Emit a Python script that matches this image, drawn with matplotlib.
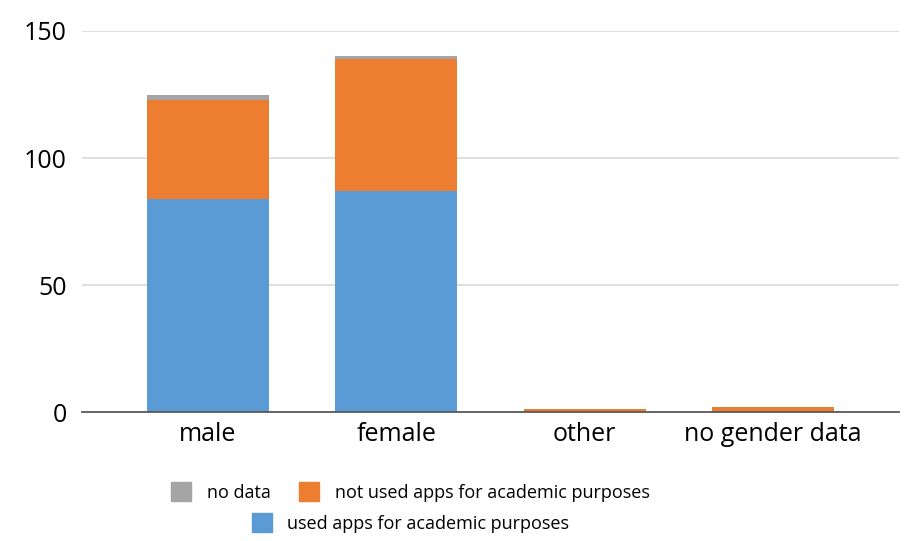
import numpy as np
import matplotlib.pyplot as plt
from matplotlib.patches import Patch

plt.rcParams['font.family'] = ['Open Sans', 'DejaVu Sans']

# -------------------------------
# Data
# -------------------------------
categories = ['male', 'female', 'other', 'no gender data']
used_apps = [84, 87, 0, 0]
not_used_apps = [39, 52, 1, 2]
no_data = [2, 1, 0, 0]

c_used = '#5b9bd5'
c_not = '#ed7d31'
c_none = '#a5a5a5'

# -------------------------------
# Plotting
# -------------------------------
fig = plt.figure(figsize=(9.1, 5.41), dpi=100)
ax = fig.add_axes([0.0901, 0.2384, 0.8978, 0.7043])

x = np.arange(len(categories))
w = 0.648
used = np.array(used_apps)
notu = np.array(not_used_apps)
nod = np.array(no_data)

ax.bar(x, used, w, color=c_used, zorder=3)
ax.bar(x, notu, w, bottom=used, color=c_not, zorder=3)
ax.bar(x, nod, w, bottom=used + notu, color=c_none, zorder=3)

ax.set_xlim(-0.669, 3.67)
ax.set_ylim(0, 150)
ax.set_yticks([0, 50, 100, 150])
ax.set_xticks(x)
ax.set_xticklabels(categories)
ax.tick_params(axis='both', length=0, labelsize=18, colors='black')
ax.tick_params(axis='x', pad=7)
ax.tick_params(axis='y', pad=11)

ax.grid(axis='y', color='#d9d9d9', linewidth=1.2, zorder=0)
for s in ['top', 'right', 'left']:
    ax.spines[s].set_visible(False)
ax.spines['bottom'].set_color('#595959')
ax.spines['bottom'].set_linewidth(1.3)
ax.spines['bottom'].set_zorder(4)

# Legend in two rows
row1 = [Patch(color=c_none), Patch(color=c_not)]
fig.legend(row1, ['no data', 'not used apps for academic purposes'],
           loc='center', bbox_to_anchor=(0.451, 0.0906), ncol=2,
           frameon=False, fontsize=13, handlelength=1.1, handleheight=1.2,
           handletextpad=0.85, columnspacing=1.6)
fig.legend([Patch(color=c_used)], ['used apps for academic purposes'],
           loc='center', bbox_to_anchor=(0.451, 0.0333), frameon=False,
           fontsize=13, handlelength=1.1, handleheight=1.2, handletextpad=0.85)

fig.savefig('out.png', dpi=100)
